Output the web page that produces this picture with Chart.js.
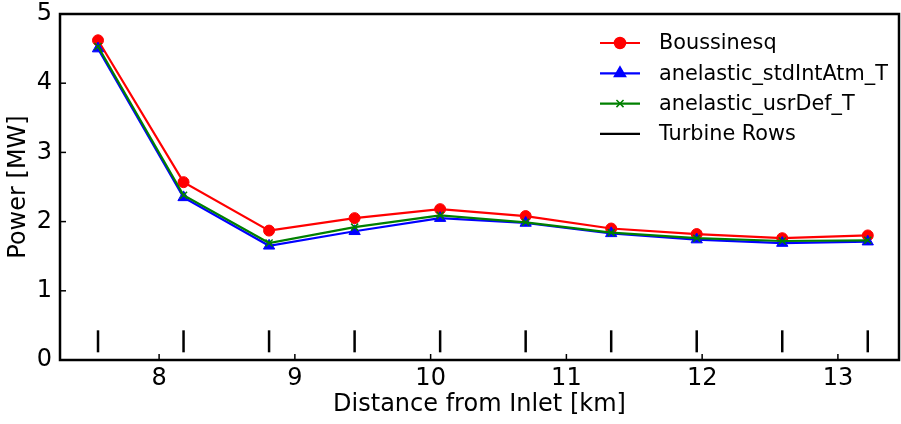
<!DOCTYPE html>
<html>
<head>
<meta charset="utf-8">
<script src="https://cdn.jsdelivr.net/npm/chart.js@4/dist/chart.umd.min.js"></script>
<style>
  html, body { margin: 0; padding: 0; background: #fff; }
  #wrap { width: 901px; height: 424px; }
</style>
</head>
<body>
<div id="wrap"><canvas id="powerCanvas" width="901" height="424"></canvas></div>
<script>
// distance of each turbine row from the inlet [km]
var rowDistance = [7.55, 8.18, 8.81, 9.44, 10.07, 10.70, 11.33, 11.96, 12.59, 13.22];
// mean power per row [MW]
var boussinesq = [4.62, 2.57, 1.87, 2.05, 2.18, 2.08, 1.90, 1.82, 1.76, 1.80];
var stdIntAtm = [4.50, 2.35, 1.65, 1.86, 2.05, 1.98, 1.83, 1.74, 1.69, 1.71];
var usrDef = [4.53, 2.38, 1.69, 1.92, 2.09, 1.99, 1.84, 1.76, 1.72, 1.73];
var rowMarkerLevel = 0.27;
var xTicks = [8, 9, 10, 11, 12, 13];
var yTicks = [0, 1, 2, 3, 4, 5];

var FONT = 'DejaVu Sans';

function pts(ys) {
    return rowDistance.map(function (x, i) { return {x: x, y: ys[i]}; });
}

var legendItems = [
    {label: 'Boussinesq', color: '#ff0000', marker: 'circle'},
    {label: 'anelastic_stdIntAtm_T', color: '#0000ff', marker: 'triangle'},
    {label: 'anelastic_usrDef_T', color: '#008000', marker: 'crossRot'},
    {label: 'Turbine Rows', color: '#000000', marker: null}
];

// frame, inward ticks and the legend box
var framePlugin = {
    id: 'frame',
    afterDraw: function (chart) {
        var ctx = chart.ctx, a = chart.chartArea;
        var xs = chart.scales.x, ys = chart.scales.y;
        ctx.save();
        ctx.strokeStyle = '#000';
        ctx.lineWidth = 1.5;
        xTicks.forEach(function (v) {
            var px = xs.getPixelForValue(v);
            ctx.beginPath(); ctx.moveTo(px, a.bottom); ctx.lineTo(px, a.bottom - 6); ctx.stroke();
        });
        yTicks.forEach(function (v) {
            var py = ys.getPixelForValue(v);
            ctx.beginPath(); ctx.moveTo(a.left, py); ctx.lineTo(a.left + 6, py); ctx.stroke();
        });
        ctx.lineWidth = 2.5;
        ctx.strokeRect(a.left, a.top, a.right - a.left, a.bottom - a.top);

        // legend
        var x0 = 600, x1 = 640, tx = 659, y = 43, dy = 30.3;
        ctx.font = '20.8px "' + FONT + '"';
        ctx.textBaseline = 'middle';
        ctx.textAlign = 'left';
        legendItems.forEach(function (it, i) {
            var yy = y + i * dy;
            ctx.strokeStyle = it.color;
            ctx.lineWidth = 2.2;
            ctx.beginPath(); ctx.moveTo(x0, yy); ctx.lineTo(x1, yy); ctx.stroke();
            if (it.marker) {
                ctx.fillStyle = it.color;
                ctx.lineWidth = 1.5;
                Chart.helpers.drawPoint(ctx, {
                    pointStyle: it.marker,
                    radius: it.marker === 'crossRot' ? 5 : (it.marker === 'triangle' ? 6.5 : 5.5),
                    borderWidth: 1.5,
                    rotation: 0
                }, (x0 + x1) / 2, yy);
            }
            ctx.fillStyle = '#000';
            ctx.fillText(it.label, tx, yy + 1);
        });
        ctx.restore();
    }
};

function series(label, ys, color, style, r, order) {
    return {
        label: label,
        data: pts(ys),
        showLine: true,
        borderColor: color,
        backgroundColor: color,
        borderWidth: 2.2,
        pointStyle: style,
        pointRadius: r,
        pointHoverRadius: r,
        pointBorderWidth: style === 'crossRot' ? 1.5 : 1,
        order: order
    };
}

new Chart(document.getElementById('powerCanvas'), {
    type: 'scatter',
    data: {
        datasets: [
            series('Boussinesq', boussinesq, '#ff0000', 'circle', 5.5, 3),
            series('anelastic_stdIntAtm_T', stdIntAtm, '#0000ff', 'triangle', 6.5, 2),
            series('anelastic_usrDef_T', usrDef, '#008000', 'crossRot', 5, 1),
            {
                label: 'Turbine Rows',
                data: rowDistance.map(function (x) { return {x: x, y: rowMarkerLevel}; }),
                showLine: false,
                pointStyle: 'line',
                rotation: 90,
                pointRadius: 11,
                pointHoverRadius: 11,
                borderColor: '#000',
                borderWidth: 2.5,
                order: 0
            }
        ]
    },
    options: {
        responsive: false,
        animation: false,
        events: [],
        layout: {autoPadding: false, padding: {top: 14, right: 2, left: 0, bottom: 0}},
        plugins: {legend: {display: false}, tooltip: {enabled: false}},
        scales: {
            x: {
                type: 'linear',
                min: 7.27,
                max: 13.45,
                afterBuildTicks: function (s) { s.ticks = xTicks.map(function (v) { return {value: v}; }); },
                afterFit: function (s) { s.height = 64; s.paddingLeft = 0; s.paddingRight = 0; },
                grid: {display: false, drawTicks: false},
                border: {display: false},
                ticks: {color: '#000', font: {family: FONT, size: 24}, padding: 4, maxRotation: 0},
                title: {display: true, text: 'Distance from Inlet [km]', color: '#000', font: {family: FONT, size: 24}, padding: {top: 0, bottom: 5}}
            },
            y: {
                min: 0,
                max: 5,
                afterBuildTicks: function (s) { s.ticks = yTicks.map(function (v) { return {value: v}; }); },
                afterFit: function (s) { s.width = 60; s.paddingTop = 0; s.paddingBottom = 0; },
                grid: {display: false, drawTicks: false},
                border: {display: false},
                ticks: {color: '#000', font: {family: FONT, size: 24}, padding: 8},
                title: {display: true, text: 'Power [MW]', color: '#000', font: {family: FONT, size: 24}, padding: {top: 4, bottom: 0}}
            }
        }
    },
    plugins: [framePlugin]
});
</script>
</body>
</html>
